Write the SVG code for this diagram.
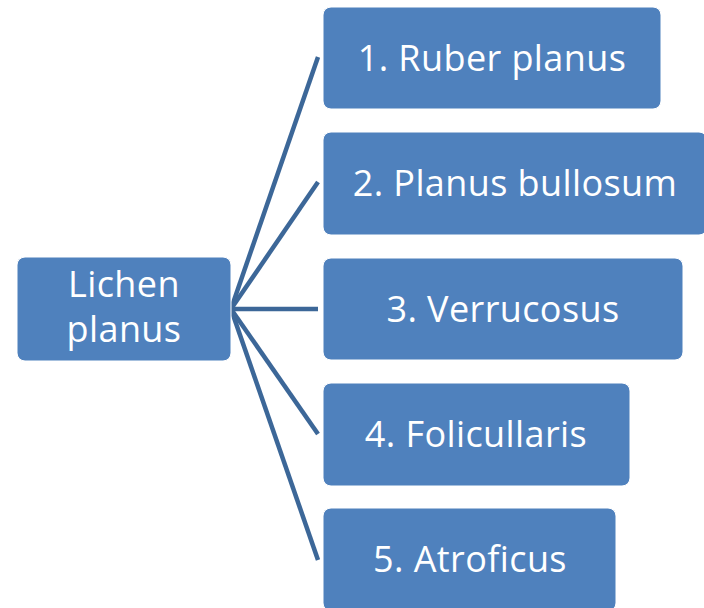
<svg xmlns="http://www.w3.org/2000/svg" width="704" height="608" viewBox="0 0 704 608">
<style>
.box{fill:#4F81BD;stroke:#ffffff;stroke-width:1}
.t{font-family:"Open Sans","Liberation Sans",sans-serif;font-size:36px;letter-spacing:0.4px;fill:#ffffff;text-anchor:middle}
.c{stroke:#3C6798;stroke-width:4.5;fill:none}
</style>
<rect width="704" height="608" fill="#ffffff"/>
<g id="connectors">
<line class="c" x1="231" y1="309" x2="318" y2="57"/>
<line class="c" x1="231" y1="309" x2="318" y2="182"/>
<line class="c" x1="231" y1="309" x2="318" y2="309"/>
<line class="c" x1="231" y1="309" x2="318" y2="434"/>
<line class="c" x1="231" y1="309" x2="318" y2="560"/>
</g>
<g id="root">
<rect class="box" x="17" y="257" width="214" height="104" rx="8"/>
<text class="t" x="124" y="297">Lichen</text>
<text class="t" x="124" y="342">planus</text>
</g>
<g id="n1">
<rect class="box" x="323" y="7" width="338" height="102" rx="8"/>
<text class="t" x="492" y="71">1. Ruber planus</text>
</g>
<g id="n2">
<rect class="box" x="323" y="132" width="384" height="103" rx="8"/>
<text class="t" x="515" y="196">2. Planus bullosum</text>
</g>
<g id="n3">
<rect class="box" x="323" y="258" width="360" height="102" rx="8"/>
<text class="t" x="503" y="322">3. Verrucosus</text>
</g>
<g id="n4">
<rect class="box" x="323" y="383" width="307" height="103" rx="8"/>
<text class="t" x="476" y="447">4. Folicullaris</text>
</g>
<g id="n5">
<rect class="box" x="323" y="508" width="293" height="103" rx="8"/>
<text class="t" x="470" y="572">5. Atroficus</text>
</g>
</svg>
